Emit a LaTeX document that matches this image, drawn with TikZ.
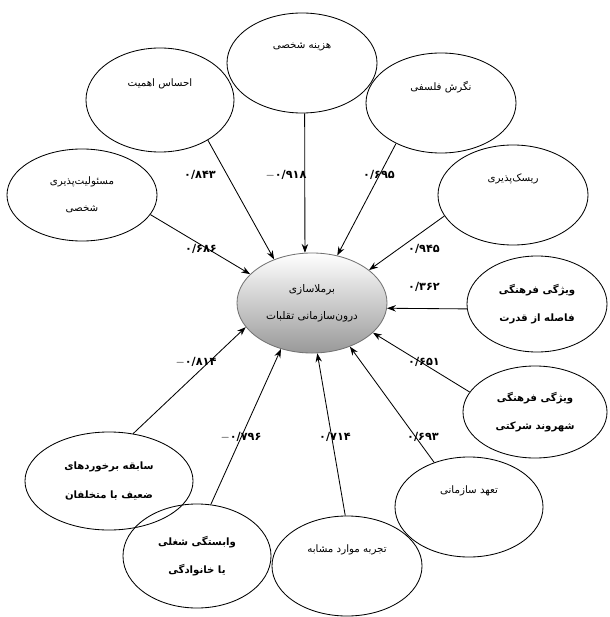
\documentclass[tikz,border=0pt]{standalone}
\usepackage{fontspec}
\newfontfamily\arabicfont[Script=Arabic]{DejaVu Sans}
\TeXXeTstate=1
\usepackage{tikz}
\usetikzlibrary{shapes.geometric,arrows.meta}
\newcommand{\fa}[1]{\beginR #1\endR}
\tikzset{
  >=Stealth,
  factor/.style={ellipse,draw,line width=0.6pt,inner sep=0pt,
    minimum width=3.75cm,minimum height=2.5cm,align=center,
    font=\arabicfont\fontsize{7.3}{19}\selectfont},
  strong/.style={factor,font=\arabicfont\bfseries\fontsize{7.2}{20}\selectfont},
  coef/.style={font=\arabicfont\bfseries\fontsize{8}{9}\selectfont},
}

\begin{document}
\begin{tikzpicture}[
  x=0.025cm, y=-0.025cm,
  link/.style={draw,line width=0.6pt,-{Stealth[length=2.2mm,width=1.6mm]}}
]
\useasboundingbox (0,0) rectangle (610,617);

% central construct
\node[factor,top color=white,bottom color=black!40,draw=black!55,
  font=\arabicfont\fontsize{7.5}{19}\selectfont]
  (core) at (312,303) {\fa{برملاسازی}\\\fa{درون‌سازمانی تقلبات}};

% surrounding factors
\node[factor] (hazine) at (302,63) {\fa{هزینه شخصی}\\\strut};
\node[factor,minimum width=3.7cm,minimum height=2.6cm] (ahamiat) at (160,100) {\fa{احساس اهمیت}\\\strut};
\node[factor] (negaresh) at (441,103) {\fa{نگرش فلسفی}\\\strut};
\node[factor,minimum height=2.3cm] (masuliat) at (82,195) {\fa{مسئولیت‌پذیری}\\\fa{شخصی}};
\node[factor] (risk) at (513,195) {\fa{ریسک‌پذیری}\\\strut};
\node[strong,minimum width=3.5cm,minimum height=2.4cm] (qodrat) at (537,304) {\fa{ویژگی فرهنگی}\\\fa{فاصله از قدرت}};
\node[strong,minimum width=3.6cm,minimum height=2.3cm] (shahrvand) at (535,412) {\fa{ویژگی فرهنگی}\\\fa{شهروند شرکتی}};
\node[factor,minimum width=3.7cm] (taahod) at (469,507) {\fa{تعهد سازمانی}\\\strut};
\node[factor] (tajrobe) at (347,566) {\fa{تجربه موارد مشابه}\\\strut};
\node[strong,minimum width=3.7cm,minimum height=2.6cm] (vabastegi) at (197,556) {\fa{وابستگی شغلی}\\\fa{یا خانوادگی}};
\node[strong,minimum width=4.2cm,minimum height=2.45cm] (sabeghe) at (109,481) {\fa{سابقه برخوردهای}\\\fa{ضعیف با متخلفان}};

% paths
\draw[link] (ahamiat.-40.7) -- (core.131.6);
\draw[link] (hazine.-87) -- (core.98);
\draw[link] (negaresh.-138.6) -- (core.62.5);
\draw[link] (risk.-163) -- (core.30);
\draw[link] (qodrat.184) -- (core.-4.6);
\draw[link] (shahrvand.163.1) -- (core.-26.2);
\draw[link] (taahod.128.2) -- (core.-49.8);
\draw[link] (tajrobe.92.4) -- (core.-84.7);
\draw[link] (vabastegi.75) -- (core.-124.2);
\draw[link] (sabeghe.63.9) -- (core.-160.8);
\draw[link] (masuliat.-16.2) -- (core.155.7);

% coefficients
\node[coef] (c1) at (200,175) {۰/۸۴۳};
\node[coef] (c2) at (286,175) {$-$۰/۹۱۸};
\node[coef] (c3) at (379,175) {۰/۶۹۵};
\node[coef] (c4) at (424,249) {۰/۹۴۵};
\node[coef] (c5) at (424,287) {۰/۳۶۲};
\node[coef] (c6) at (424,362) {۰/۶۵۱};
\node[coef] (c7) at (201,249) {۰/۶۸۶};
\node[coef] (c8) at (196,362) {$-$۰/۸۱۴};
\node[coef] (c9) at (241,437) {$-$۰/۷۹۶};
\node[coef] (c10) at (335,437) {۰/۷۱۴};
\node[coef] (c11) at (423,437) {۰/۶۹۳};
\end{tikzpicture}
\end{document}
